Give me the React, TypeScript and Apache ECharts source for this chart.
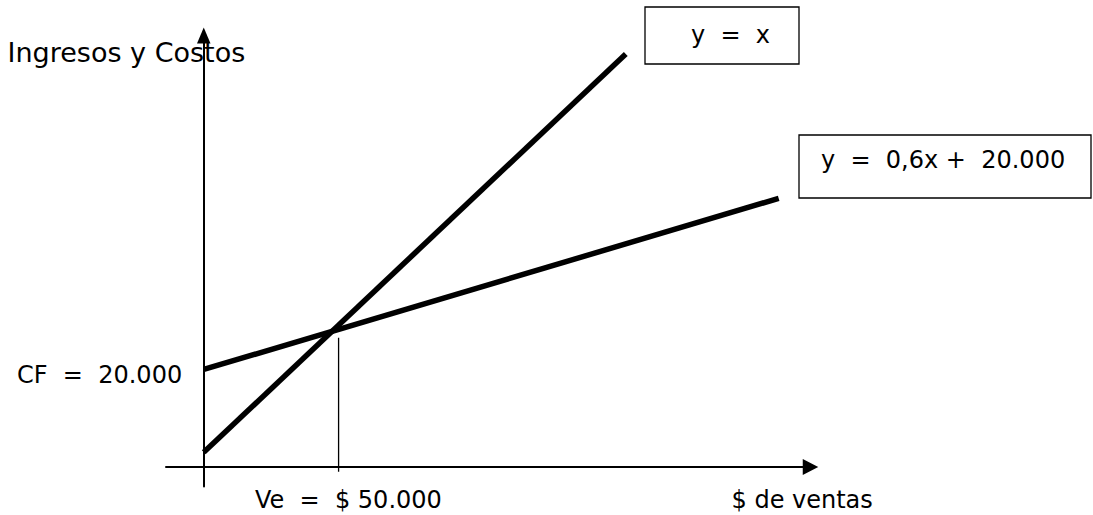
import React, { useEffect, useRef } from "react";
import * as echarts from "echarts";

// Axis extents (value units, $)
const xRange = [-14000, 225000];
const yRange = [-4000, 88500];

// Revenue line "y = x" (as drawn)
const ingresosX = [0, 156500];
const ingresosY = [3000, 84700];

// Cost line "y = 0,6x + 20.000" (as drawn)
const costosX = [0, 213200];
const costosY = [20000, 55100];

// Break-even marker at Ve = 50.000
const veX = [50000, 50000];
const veY = [26500, -1000];

const labels = {
  yName: "Ingresos y Costos",
  xName: "$ de ventas",
  cf: "CF  =  20.000",
  ve: "Ve  =  $ 50.000",
  eq1: "y  =  x",
  eq2: "y  =  0,6x +  20.000",
};

const FONT = "DejaVu Sans, Verdana, sans-serif";

function pts(xs: number[], ys: number[]) {
  return xs.map((x, i) => [x, ys[i]]);
}

export default function App() {
  const ref = useRef<HTMLDivElement>(null);
  useEffect(() => {
    if (!ref.current) return;
    const chart = echarts.init(ref.current, undefined, { renderer: "svg" });
    const txt = (text: string, x: number, y: number, size: number) => ({
      type: "text",
      x,
      y,
      silent: true,
      style: {
        text,
        fill: "#000",
        font: `${size}px ${FONT}`,
        align: "left",
        verticalAlign: "middle",
      },
    });
    const box = (x: number, y: number, w: number, h: number) => ({
      type: "rect",
      silent: true,
      shape: { x, y, width: w, height: h },
      style: { fill: "#fff", stroke: "#000", lineWidth: 1.3 },
    });
    chart.setOption({
      animation: false,
      backgroundColor: "#fff",
      grid: { left: 166, top: 35.5, width: 644.5, height: 451 },
      xAxis: {
        type: "value",
        min: xRange[0],
        max: xRange[1],
        axisLine: {
          show: true,
          onZero: true,
          lineStyle: { color: "#000", width: 2 },
          symbol: ["none", "triangle"],
          symbolSize: [16, 15.5],
        },
        axisTick: { show: false },
        axisLabel: { show: false },
        splitLine: { show: false },
      },
      yAxis: {
        type: "value",
        min: yRange[0],
        max: yRange[1],
        axisLine: {
          show: true,
          onZero: true,
          lineStyle: { color: "#000", width: 2 },
          symbol: ["none", "triangle"],
          symbolSize: [13.5, 16],
        },
        axisTick: { show: false },
        axisLabel: { show: false },
        splitLine: { show: false },
      },
      series: [
        {
          type: "line",
          data: pts(ingresosX, ingresosY),
          symbol: "none",
          silent: true,
          lineStyle: { color: "#000", width: 5.5 },
          z: 3,
        },
        {
          type: "line",
          data: pts(costosX, costosY),
          symbol: "none",
          silent: true,
          lineStyle: { color: "#000", width: 5.5 },
          z: 3,
        },
        {
          type: "line",
          data: pts(veX, veY),
          symbol: "none",
          silent: true,
          lineStyle: { color: "#000", width: 1.3 },
          z: 2,
        },
      ],
      graphic: [
        txt(labels.yName, 7.5, 52.4, 27),
        txt(labels.cf, 17, 375, 24),
        txt(labels.ve, 255, 500, 24),
        txt(labels.xName, 731.5, 499.7, 24),
        box(645, 7, 154, 57),
        txt(labels.eq1, 691, 35, 24),
        box(799, 135, 292, 63),
        txt(labels.eq2, 821, 160, 24),
      ],
    });
    return () => chart.dispose();
  }, []);
  return (
    <div
      ref={ref}
      style={{ position: "fixed", left: 0, top: 0, width: 1093, height: 515 }}
    />
  );
}
